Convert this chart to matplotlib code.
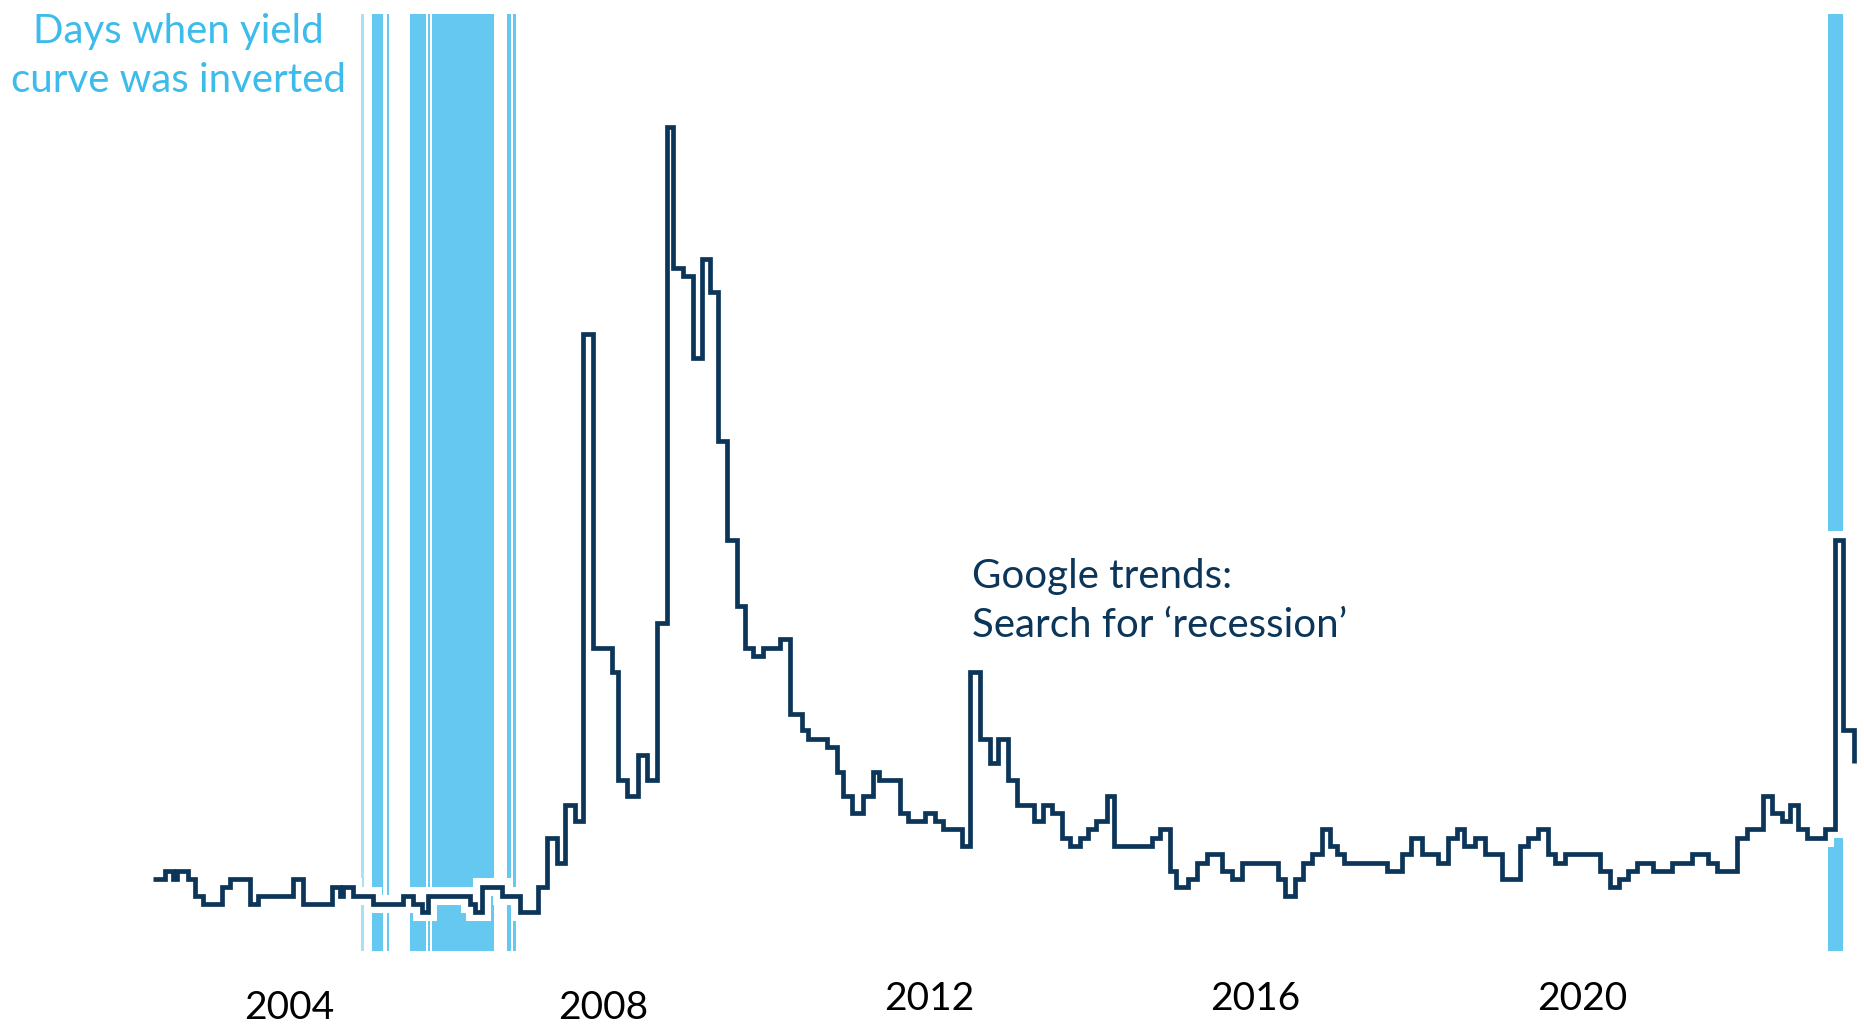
import matplotlib
matplotlib.use("Agg")
import matplotlib.pyplot as plt
import matplotlib.patheffects as pe

plt.rcParams['font.family'] = ['Lato', 'DejaVu Sans']

# google trends: search interest for 'recession' (step start in years, value)
trend_x = [2002.49, 2002.63, 2002.73, 2002.78, 2002.91, 2003.00, 2003.10, 2003.33, 2003.43, 2003.67,
           2003.77, 2004.20, 2004.32, 2004.68, 2004.78, 2004.81, 2004.94, 2005.18, 2005.55, 2005.67,
           2005.78, 2005.86, 2006.37, 2006.43, 2006.52, 2006.76, 2006.98, 2007.20, 2007.31, 2007.44,
           2007.53, 2007.66, 2007.75, 2007.88, 2008.11, 2008.18, 2008.29, 2008.43, 2008.54,
           2008.66, 2008.78, 2008.86, 2008.98, 2009.10, 2009.21, 2009.31, 2009.41, 2009.52, 2009.64,
           2009.74, 2009.84, 2009.96, 2010.17, 2010.29, 2010.44, 2010.51, 2010.75, 2010.87, 2010.94,
           2011.05, 2011.19, 2011.31, 2011.39, 2011.64, 2011.74, 2011.95, 2012.07, 2012.17, 2012.40,
           2012.50, 2012.62, 2012.74, 2012.84, 2012.96, 2013.07, 2013.29, 2013.39, 2013.51, 2013.63,
           2013.72, 2013.85, 2013.94, 2014.05, 2014.18, 2014.27, 2014.73, 2014.83, 2014.95, 2015.03,
           2015.17, 2015.28, 2015.40, 2015.59, 2015.71, 2015.83, 2016.27, 2016.36, 2016.48, 2016.58,
           2016.69, 2016.81, 2016.91, 2017.00, 2017.09, 2017.61, 2017.79, 2017.91, 2018.04, 2018.23,
           2018.36, 2018.47, 2018.56, 2018.69, 2018.81, 2019.02, 2019.24, 2019.34, 2019.46, 2019.58,
           2019.67, 2019.79, 2020.22, 2020.34, 2020.46, 2020.56, 2020.68, 2020.87, 2021.11, 2021.35,
           2021.54, 2021.66, 2021.90, 2022.02, 2022.22, 2022.33, 2022.45, 2022.55, 2022.65, 2022.76,
           2022.98, 2023.10, 2023.20, 2023.34]
trend_v = [9, 10, 9, 10, 9, 7, 6, 8, 9, 6,
           7, 9, 6, 8, 7, 8, 7, 6, 7, 6,
           5, 7, 6, 5, 8, 7, 5, 8, 14, 11,
           18, 16, 75, 37, 34, 21, 19, 24, 21,
           40, 100, 83, 82, 72, 84, 80, 62, 50, 42,
           37, 36, 37, 38, 29, 27, 26, 25, 22, 19,
           17, 19, 22, 21, 17, 16, 17, 16, 15, 13,
           34, 26, 23, 26, 21, 18, 16, 18, 17, 14,
           13, 14, 15, 16, 19, 13, 14, 15, 10, 8,
           9, 11, 12, 10, 9, 11, 9, 7, 9, 11,
           12, 15, 13, 12, 11, 10, 12, 14, 12, 11,
           14, 15, 13, 14, 12, 9, 13, 14, 15, 12,
           11, 12, 10, 8, 9, 10, 11, 10, 11, 12,
           11, 10, 14, 15, 19, 17, 16, 18, 15, 14,
           15, 50, 27, 23]

# days when the yield curve was inverted
inv_start = [2005.04, 2005.17, 2005.35, 2005.63, 2005.86, 2005.90, 2006.83, 2006.90, 2023.02]
inv_end = [2005.07, 2005.30, 2005.38, 2005.83, 2005.88, 2006.66, 2006.87, 2006.93, 2023.20]

tick_years = [2004, 2008, 2012, 2016, 2020]

navy = '#0c3659'
sky = '#64c8f1'
sky_text = '#3dbcec'

fig = plt.figure(figsize=(18.65, 10.24), dpi=100)
ax = fig.add_axes([0, 0, 1, 1])
ax.set_xlim(2000.61, 2023.47)
ax.set_ylim(-8.54, 115.37)
ax.axis('off')

for i, (s, e) in enumerate(zip(inv_start, inv_end)):
    ax.axvspan(s, e, ymin=0.071, ymax=0.986, color=sky, lw=0,
               alpha=0.55 if i == 0 else 1.0)

ax.plot(trend_x, trend_v, drawstyle='steps-post', color=navy, lw=3.4,
        solid_joinstyle='miter', solid_capstyle='butt',
        path_effects=[pe.Stroke(linewidth=13, foreground='white', joinstyle='miter'),
                      pe.Normal()])

# year labels (first two sit a bit lower in the original)
lab_y = [0.016, 0.016, 0.024, 0.024, 0.024]
for yr, yy in zip(tick_years, lab_y):
    dx = 0.15 if yr == 2004 else 0
    ax.text(yr + dx, yy, str(yr), transform=ax.get_xaxis_transform(),
            ha='center', va='center', fontsize=28, color='black')

fig.text(0.0955, 0.945, "Days when yield\ncurve was inverted", ha='center', va='center',
         fontsize=29, color=sky_text, linespacing=1.4)
fig.text(0.521, 0.413, "Google trends:\nSearch for \u2018recession\u2019", ha='left', va='center',
         fontsize=29, color=navy, linespacing=1.4)

fig.savefig('out.png', dpi=100)
